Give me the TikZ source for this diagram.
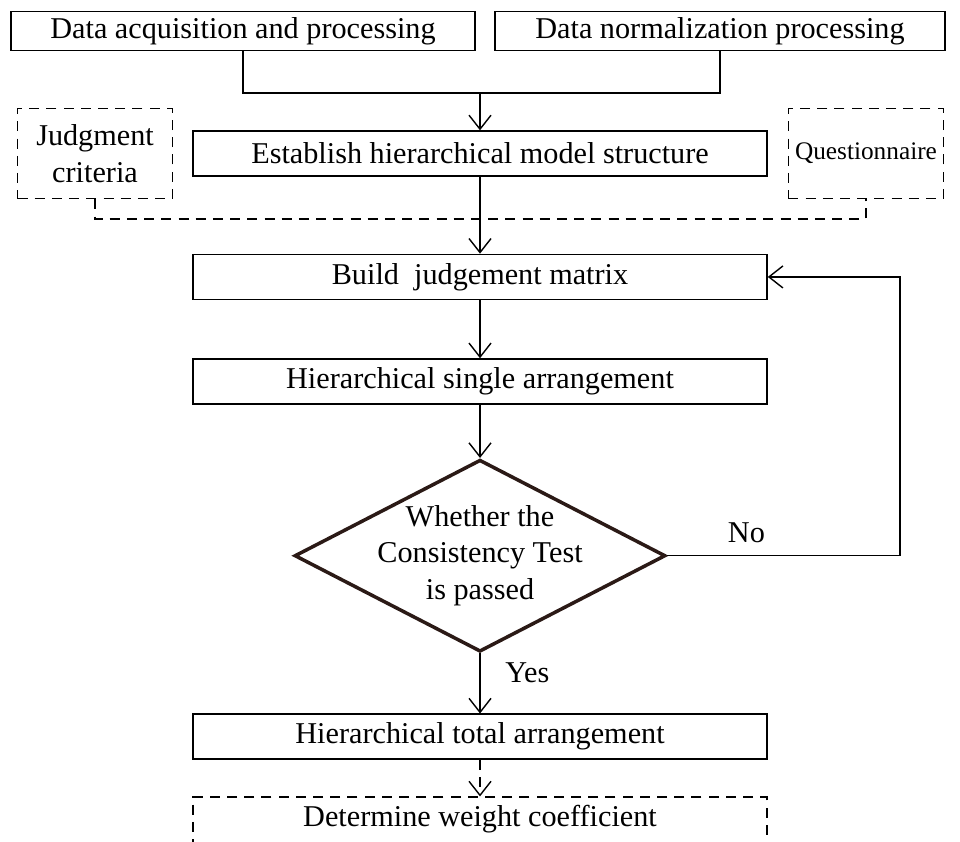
\documentclass[tikz,border=0pt]{standalone}
\usepackage{fontspec}
\setmainfont{Liberation Serif}
\usetikzlibrary{shapes.geometric,arrows.meta,positioning}
\definecolor{edge}{RGB}{43,26,22}

\begin{document}
\begin{tikzpicture}[
  font=\fontsize{21.5}{26}\selectfont,
  box/.style={draw,line width=1.1pt,minimum width=14.35cm,minimum height=1.125cm,align=center,inner sep=0pt},
  dbox/.style={draw,dash pattern=on 0.25cm off 0.18cm,line width=1pt,minimum width=3.875cm,minimum height=2.25cm,align=center,inner sep=0pt},
  dec/.style={draw=edge,diamond,line width=2.5pt,aspect=1.93,inner xsep=-0.5cm,inner ysep=-0.2cm,minimum width=9.275cm,minimum height=4.8cm,align=center},
  line/.style={line width=1pt},
  dline/.style={line width=1pt,dash pattern=on 0.25cm off 0.18cm},
  arr/.style={-{Straight Barb[length=3.5mm,width=5.5mm]},line width=1pt},
  darr/.style={arr,dash pattern=on 0.25cm off 0.18cm},
]
\useasboundingbox (0,0) rectangle (24,-21.025);

\node[box,minimum width=11.6cm,minimum height=0.975cm] (acq) at (6.075,-0.775) {Data acquisition and processing};
\node[box,minimum width=11.25cm,minimum height=0.975cm] (norm) at (18,-0.775) {Data normalization processing};

\node[box] (est) at (12,-3.84) {Establish hierarchical model structure};
\node[dbox,left=0.475cm of est] (crit) {Judgment\\criteria};
\node[dbox,right=0.5cm of est,font=\fontsize{18}{22}\selectfont] (quest) {Questionnaire};

\node[box,below=1.92cm of est] (build) {Build\ \ judgement matrix};
\node[box,below=1.45cm of build] (single) {Hierarchical single arrangement};
\node[dec,below=1.33cm of single] (test) {Whether the\\Consistency Test\\is passed};
\node[box,below=1.5cm of test] (total) {Hierarchical total arrangement};
% runs off the lower edge of the page
\node[box,dash pattern=on 0.25cm off 0.18cm,line width=1pt,minimum height=0pt,text height=0.74cm,text depth=0.9cm,below=0.91cm of total] (weight) {Determine weight coefficient};

\coordinate (join) at (12,-2.325);
\coordinate (djoin) at (12,-5.475);
\coordinate (loop) at (22.5,0);

\draw[line] (acq.south) |- (join) -| (norm.south);
\draw[arr] (join) -- (est.north);
\draw[dline] (crit.south) |- (djoin) -| (quest.south);

\draw[arr] (est) -- (build);
\draw[arr] (build) -- (single);
\draw[arr] (single) -- (test);
\draw[arr] (test.east) -- node[pos=0.34,above=0.2cm] (no) {No} (test.east -| loop) |- (build.east);
\draw[arr] (test.south) -- node[pos=0.32,right=0.5cm] (yes) {Yes} (total.north);
\draw[darr] (total) -- (weight);
\end{tikzpicture}
\end{document}
